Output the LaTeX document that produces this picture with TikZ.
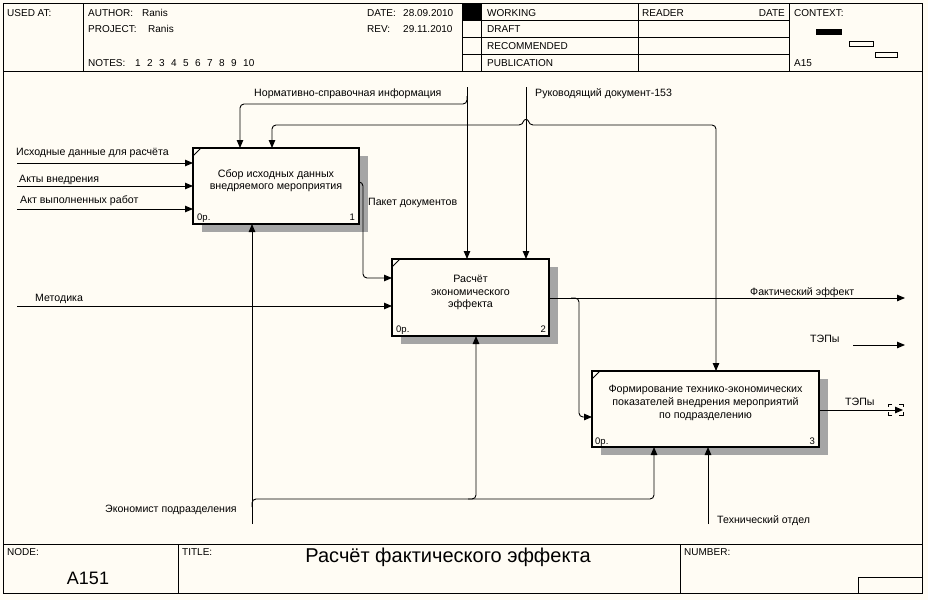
\documentclass[tikz,border=0pt]{standalone}
\usepackage{fontspec}
\setmainfont{Liberation Sans}
\usetikzlibrary{arrows.meta,shadows}
\definecolor{bg}{RGB}{255,252,244}
\definecolor{shade}{RGB}{165,165,165}
\begin{document}
\begin{tikzpicture}[x=1pt,y=-1pt,
  lbl/.style={font=\fontsize{10.6}{12}\selectfont, inner sep=0pt, anchor=base west},
  small/.style={font=\fontsize{9.5}{11}\selectfont, inner sep=0pt, anchor=base west},
  hdr/.style={font=\fontsize{10}{12}\selectfont, inner sep=0pt, anchor=base west},
  box/.style={draw, line width=1.6pt, fill=bg, inner sep=0pt, outer sep=0pt,
    drop shadow={shadow xshift=9pt, shadow yshift=-7.5pt, fill=shade, opacity=1}},
  btxt/.style={font=\fontsize{10.7}{12}\selectfont, inner sep=0pt, anchor=base},
  arr/.style={line width=0.9pt, -{Triangle[length=8pt,width=6.5pt]}, rounded corners=4pt},
  ln/.style={line width=0.9pt},
  frame/.style={line width=0.8pt}
]
\path[use as bounding box, fill=bg] (0,0) rectangle (928,600);

% ---------- frame ----------
\draw[frame] (3,3) rectangle (922,593);
\draw[frame] (3,71) -- (922,71);
\draw[frame] (83,3) -- (83,71);
\draw[frame] (462,3) -- (462,71);
\draw[frame] (481,3) -- (481,71);
\draw[frame] (638,3) -- (638,71);
\draw[frame] (789,3) -- (789,71);
\draw[frame] (462,20) -- (789,20);
\draw[frame] (462,37) -- (789,37);
\draw[frame] (462,54) -- (789,54);
\fill (462,3) rectangle (481,20);
\fill (816,29) rectangle (842,35);
\draw[line width=0.7pt] (849,41) rectangle (873,46);
\draw[line width=0.7pt] (875,52) rectangle (897,57);
\draw[frame] (3,544) -- (922,544);
\draw[frame] (178,544) -- (178,593);
\draw[frame] (680,544) -- (680,593);
\draw[frame] (858,577) rectangle (922,593);

% ---------- header texts ----------
\node[hdr] (usedat) at (7,16) {USED AT:};
\node[hdr] (author) at (88,16) {AUTHOR:};
\node[hdr] (authorv) at (142,16) {Ranis};
\node[hdr] (project) at (88,32) {PROJECT:};
\node[hdr] (projectv) at (148,32) {Ranis};
\node[hdr] (notes) at (88,66) {NOTES:};
\foreach \n/\x in {1/135,2/147,3/159,4/171,5/183,6/195,7/207,8/219,9/231,10/243}
  \node[hdr] (note\n) at (\x,66) {\n};
\node[hdr] (date) at (367,16) {DATE:};
\node[hdr] (datev) at (403,16) {28.09.2010};
\node[hdr] (rev) at (367,32) {REV:};
\node[hdr] (revv) at (403,32) {29.11.2010};
\node[hdr] (working) at (487,16) {WORKING};
\node[hdr] (draft) at (487,32) {DRAFT};
\node[hdr] (recom) at (487,49) {RECOMMENDED};
\node[hdr] (publ) at (487,66) {PUBLICATION};
\node[hdr] (reader) at (642,16) {READER};
\node[hdr, anchor=base east] (rdate) at (785,16) {DATE};
\node[hdr] (context) at (794,16) {CONTEXT:};
\node[hdr] (a15) at (794,66) {A15};
\node[hdr] (nodel) at (7,555) {NODE:};
\node[font=\fontsize{18}{20}\selectfont, inner sep=0pt, anchor=base] (nodev) at (88,584) {A151};
\node[hdr] (titlel) at (182,555) {TITLE:};
\node[font=\fontsize{20}{22}\selectfont, inner sep=0pt, anchor=base] (titlev) at (448,562) {Расчёт фактического эффекта};
\node[hdr] (numberl) at (684,555) {NUMBER:};

% ---------- boxes ----------
\node[box, minimum width=166pt, minimum height=76pt] (b1) at (276,186) {};
\node[box, minimum width=157pt, minimum height=77pt] (b2) at (470.5,297.5) {};
\node[box, minimum width=227pt, minimum height=76pt] (b3) at (705.5,409) {};
\foreach \b in {b1,b2,b3}
  \draw[line width=1pt] ([yshift=-8pt]\b.north west) -- ([xshift=8pt]\b.north west);

\node[btxt] (b1l1) at (276,177) {Сбор исходных данных};
\node[btxt] (b1l2) at (276,189) {внедряемого мероприятия};
\node[btxt] (b2l1) at (470.5,282) {Расчёт};
\node[btxt] (b2l2) at (470.5,295) {экономического};
\node[btxt] (b2l3) at (470.5,307) {эффекта};
\node[btxt] (b3l1) at (705.5,392) {Формирование технико-экономических};
\node[btxt] (b3l2) at (705.5,405) {показателей внедрения мероприятий};
\node[btxt] (b3l3) at (705.5,418) {по подразделению};

\node[small] (b1c) at (197,220) {0р.};
\node[small, anchor=base east] (b1n) at (355,220) {1};
\node[small] (b2c) at (396,332) {0р.};
\node[small, anchor=base east] (b2n) at (546,332) {2};
\node[small] (b3c) at (595,444) {0р.};
\node[small, anchor=base east] (b3n) at (815,444) {3};

% ---------- coordinates ----------
\coordinate (nsTop) at (467,87);
\coordinate (nsS) at (467,96);
\coordinate (nsJ) at (467,104);
\coordinate (nsL) at (240,104);
\coordinate (hJ) at (467,125);
\coordinate (hL) at (272,125);
\coordinate (bumpA) at (523,125);
\coordinate (bumpB) at (529,125);
\coordinate (hR) at (716,125);
\coordinate (rdTop) at (526,87);
\coordinate (in1) at (17,163);
\coordinate (in2) at (17,186);
\coordinate (in3) at (17,209);
\coordinate (pk) at (363,182);
\coordinate (pk2) at (363,278);
\coordinate (met) at (17,306);
\coordinate (out2) at (905,298);
\coordinate (brA) at (579,298);
\coordinate (brB) at (579,417);
\coordinate (tep) at (853,345);
\coordinate (tepE) at (905,345);
\coordinate (out3) at (903,410);
\coordinate (ek) at (252,524);
\coordinate (ekJ) at (252,499);
\coordinate (ekM) at (476,499);
\coordinate (ekR) at (654,499);
\coordinate (teh) at (708,524);

% ---------- connectors ----------
\draw[arr] (nsTop) -- (b2.north -| nsTop);
\draw[arr] (nsS) -- (nsJ) -- (nsL) -- (b1.north -| nsL);
\draw[arr] (hJ) -- (hL) -- (b1.north -| hL);
\draw[arr] (hJ) -- (bumpA) .. controls (524,119) and (528,119) .. (bumpB) -- (hR) -- (b3.north -| hR);
\draw[arr] (rdTop) -- (b2.north -| rdTop);
\draw[arr] (in1) -- (b1.west |- in1);
\draw[arr] (in2) -- (b1.west |- in2);
\draw[arr] (in3) -- (b1.west |- in3);
\draw[arr] (b1.east |- pk) -- (pk) -- (pk2) -- (b2.west |- pk2);
\draw[arr] (met) -- (b2.west |- met);
\draw[arr] (b2.east |- out2) -- (out2);
\draw[arr] ([xshift=-8pt]brA) -- (brA) -- (brB) -- (b3.west |- brB);
\draw[arr] (tep) -- (tepE);
\draw[arr] (b3.east |- out3) -- (out3);
\draw[ln] (892,404) -- (888,404) -- (888,407);
\draw[ln] (892,415) -- (888,415) -- (888,412);
\draw[ln] (899,404) -- (903,404) -- (903,407);
\draw[ln] (899,415) -- (903,415) -- (903,412);
\draw[arr] (ek) -- (b1.south -| ek);
\draw[arr] ([yshift=-8pt]ekJ) -- (ekJ) -- (ekM) -- (b2.south -| ekM);
\draw[arr] ([xshift=-8pt]ekM) -- (ekR) -- (b3.south -| ekR);
\draw[arr] (teh) -- (b3.south -| teh);

% ---------- connector labels ----------
\node[lbl] (lns) at (254,96) {Нормативно-справочная информация};
\node[lbl] (lrd) at (535,96) {Руководящий документ-153};
\node[lbl] (lin1) at (16,155) {Исходные данные для расчёта};
\node[lbl] (lin2) at (19,182) {Акты внедрения};
\node[lbl] (lin3) at (20,203) {Акт выполненных работ};
\node[lbl] (lpk) at (368,205) {Пакет документов};
\node[lbl] (lmet) at (35,301) {Методика};
\node[lbl] (lfe) at (750,295) {Фактический эффект};
\node[lbl] (ltep1) at (810,342) {ТЭПы};
\node[lbl] (ltep2) at (845,405) {ТЭПы};
\node[lbl] (lek) at (105,512) {Экономист подразделения};
\node[lbl] (lteh) at (717,523) {Технический отдел};
\end{tikzpicture}
\end{document}
